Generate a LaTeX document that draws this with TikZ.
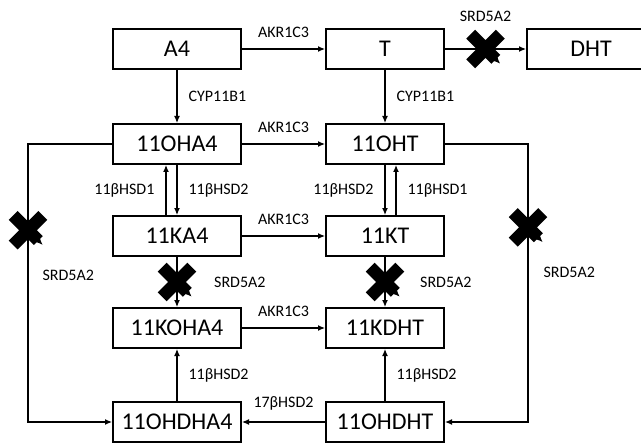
\documentclass[tikz,border=0pt]{standalone}
\usepackage{fontspec}
\setmainfont{Carlito}
\usetikzlibrary{positioning,arrows.meta}

\begin{document}
\begin{tikzpicture}[node distance=46pt and 104pt, on grid,
  box/.style={draw, line width=1pt, minimum width=64pt, minimum height=20pt, inner sep=0pt, font=\fontsize{12}{14}\selectfont},
  rbox/.style={box, minimum width=59pt},
  arr/.style={-{Latex[length=3.5pt,width=3pt]}, line width=0.6pt},
  lab/.style={font=\fontsize{8}{9}\selectfont, inner sep=5.5pt},
  blk/.style={minimum size=20pt, inner sep=0pt,
    path picture={\draw[line width=6.3pt, shift={(path picture bounding box.center)}]
      (-7.4pt,-7.4pt) -- (7.4pt,7.4pt) (-7.4pt,7.4pt) -- (7.4pt,-7.4pt);}}]
\useasboundingbox (0,0) rectangle (320.5pt,-221.5pt);
% androgen boxes
\node[box] (a4) at (88.5pt,-24.5pt) {A4};
\node[rbox, right=of a4] (t) {T};
\node[box, right=103pt of t] (dht) {DHT};
\node[box, below=47.5pt of a4] (oha4) {11OHA4};
\node[rbox, below=47.5pt of t] (oht) {11OHT};
\node[box, below=of oha4] (ka4) {11KA4};
\node[rbox, below=of oht] (kt) {11KT};
\node[box, below=of ka4] (koha4) {11KOHA4};
\node[rbox, below=of kt] (kdht) {11KDHT};
\node[box, below=47pt of koha4] (ohdha4) {11OHDHA4};
\node[rbox, below=47pt of kdht] (ohdht) {11OHDHT};
% conversions
\draw[arr] (a4) -- node[lab, above]{AKR1C3} (t);
\draw[arr] (t) -- node[blk, label={[lab, inner sep=3pt]above:SRD5A2}]{} (dht);
\draw[arr] (a4) -- node[lab, right]{CYP11B1} (oha4);
\draw[arr] (t) -- node[lab, right]{CYP11B1} (oht);
\draw[arr] (oha4) -- node[lab, above]{AKR1C3} (oht);
\draw[arr] (oha4) -- node[lab, right]{11βHSD2} (ka4);
\draw[arr] ([xshift=-5.5pt]ka4.north) -- node[lab, left]{11βHSD1} ([xshift=-5.5pt]oha4.south);
\draw[arr] (oht) -- node[lab, left]{11βHSD2} (kt);
\draw[arr] ([xshift=5.5pt]kt.north) -- node[lab, right]{11βHSD1} ([xshift=5.5pt]oht.south);
\draw[arr] (ka4) -- node[lab, above]{AKR1C3} (kt);
\draw[arr] (ka4) -- node[blk, label={[lab, inner sep=0pt, xshift=8pt]right:SRD5A2}]{} (koha4);
\draw[arr] (kt) -- node[blk, label={[lab, inner sep=0pt, xshift=7pt]right:SRD5A2}]{} (kdht);
\draw[arr] (koha4) -- node[lab, above]{AKR1C3} (kdht);
\draw[arr] (ohdha4) -- node[lab, right]{11βHSD2} (koha4);
\draw[arr] (ohdht) -- node[lab, right]{11βHSD2} (kdht);
\draw[arr] (ohdht) -- node[lab, above]{17βHSD2} (ohdha4);
% blocked side routes
\draw[arr] (oha4.west) -- ++(-42pt,0) |- node[blk, pos=.155]{} node[lab, pos=.236, right, xshift=1.5pt]{SRD5A2} (ohdha4.west);
\draw[arr] (oht.east) -- ++(41.5pt,0) |- node[blk, pos=.15]{} node[lab, pos=.23, right, xshift=2pt]{SRD5A2} (ohdht.east);
\end{tikzpicture}
\end{document}
